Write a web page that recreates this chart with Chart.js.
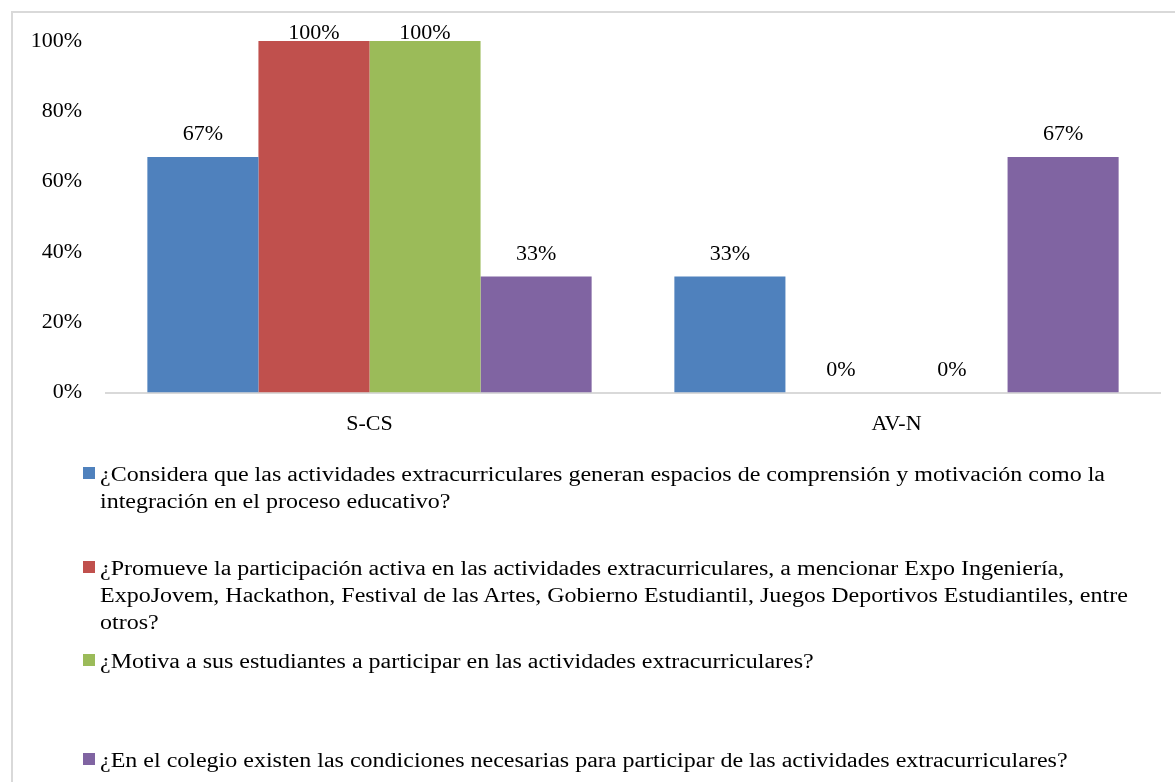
<!DOCTYPE html>
<html>
<head>
<meta charset="utf-8">
<script src="https://cdn.jsdelivr.net/npm/chart.js@4/dist/chart.umd.min.js"></script>
<style>
    html, body { margin: 0; padding: 0; background: #fff; overflow: hidden; }
    #wrap { position: relative; width: 1175px; height: 782px; }
    #frame {
        position: absolute; left: 11px; top: 11px; width: 1200px; height: 800px;
        border: 2px solid #d9d9d9; box-sizing: border-box;
    }
    #chart { position: absolute; left: 0; top: 0; }
    .item {
        position: absolute; left: 83px;
        font: 20px/27px "Liberation Serif", "Times New Roman", serif; color: #000;
    }
    .item .box {
        position: absolute; left: 0; top: 6px; width: 12px; height: 12px;
    }
    .item .txt {
        margin-left: 17px; width: 875px;
        transform: scaleX(1.2); transform-origin: 0 0;
    }
</style>
</head>
<body>
<div id="wrap">
    <div id="frame"></div>
    <canvas id="chart" width="1175" height="782"></canvas>
    <div id="legend"></div>
</div>
<script>
// Categories and series (values in %)
const categories = ['S-CS', 'AV-N'];
const seriesNames = [
    '¿Considera que las actividades extracurriculares generan espacios de comprensión y motivación como la integración en el proceso educativo?',
    '¿Promueve la participación activa en las actividades extracurriculares, a mencionar Expo Ingeniería, ExpoJovem, Hackathon, Festival de las Artes, Gobierno Estudiantil, Juegos Deportivos Estudiantiles, entre otros?',
    '¿Motiva a sus estudiantes a participar en las actividades extracurriculares?',
    '¿En el colegio existen las condiciones necesarias para participar de las actividades extracurriculares?'
];
const consideraValues = [67, 33];
const promueveValues = [100, 0];
const motivaValues = [100, 0];
const condicionesValues = [33, 67];
const yTicks = [0, 20, 40, 60, 80, 100];

const colors = ['#4F81BD', '#C0504D', '#9BBB59', '#8064A2'];
const legendTops = [461, 555, 648, 747];
const FONT = '"Liberation Serif", "Times New Roman", serif';

// Value labels above every bar
const barLabels = {
    id: 'barLabels',
    afterDatasetsDraw(chart) {
        const ctx = chart.ctx;
        ctx.save();
        ctx.font = '22px ' + FONT;
        ctx.fillStyle = '#000';
        ctx.textAlign = 'center';
        ctx.textBaseline = 'alphabetic';
        chart.data.datasets.forEach((ds, i) => {
            chart.getDatasetMeta(i).data.forEach((bar, j) => {
                const y = Math.max(bar.y - 17, 39);
                ctx.fillText(ds.data[j] + '%', bar.x, y);
            });
        });
        ctx.restore();
    }
};

const seriesData = [consideraValues, promueveValues, motivaValues, condicionesValues];

new Chart(document.getElementById('chart').getContext('2d'), {
    type: 'bar',
    data: {
        labels: categories,
        datasets: seriesNames.map((name, i) => ({
            label: name,
            data: seriesData[i],
            backgroundColor: colors[i],
            borderWidth: 0,
            barPercentage: 1,
            categoryPercentage: 0.843
        }))
    },
    options: {
        responsive: false,
        animation: false,
        layout: { padding: { top: 41, right: 15, bottom: 327, left: 0 } },
        plugins: {
            legend: { display: false },
            tooltip: { enabled: false }
        },
        scales: {
            x: {
                grid: { display: false, drawTicks: false },
                border: { display: true, color: '#d9d9d9', width: 2 },
                ticks: { color: '#000', padding: 18, font: { family: FONT, size: 22 } }
            },
            y: {
                min: 0,
                max: 100,
                afterFit: (scale) => { scale.width = 106; },
                afterBuildTicks: (scale) => { scale.ticks = yTicks.map(v => ({ value: v })); },
                grid: { display: false, drawTicks: false },
                border: { display: false },
                ticks: {
                    color: '#000',
                    padding: 24,
                    font: { family: FONT, size: 22 },
                    callback: (v) => v + '%'
                }
            }
        }
    },
    plugins: [barLabels]
});

// Legend with wrapped text
const legend = document.getElementById('legend');
seriesNames.forEach((name, i) => {
    const item = document.createElement('div');
    item.className = 'item';
    item.style.top = legendTops[i] + 'px';
    item.innerHTML = '<span class="box" style="background:' + colors[i] + '"></span><div class="txt"></div>';
    item.querySelector('.txt').textContent = name;
    legend.appendChild(item);
});
</script>
</body>
</html>
